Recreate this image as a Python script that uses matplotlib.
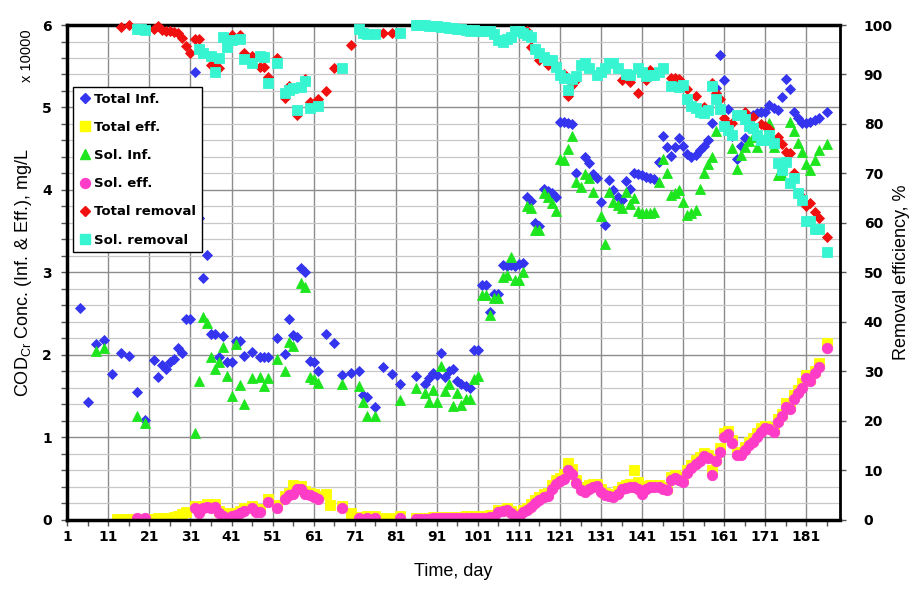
import numpy as np
import matplotlib
matplotlib.use('Agg')
import matplotlib.pyplot as plt
from matplotlib.lines import Line2D
from matplotlib.ticker import MultipleLocator, FixedLocator

# ---- data, concentrations in units of 10000 mg/L ----
tinf_day = [4, 6, 8, 10, 12, 14, 16, 18, 20, 22, 23, 24, 25, 26, 27, 28, 29, 30, 31, 32,
            33, 34, 35, 36, 37, 38, 39, 40, 41, 42, 43, 44, 46, 48, 49, 50, 52, 54, 55, 56,
            57, 58, 59, 60, 61, 62, 64, 66, 68, 70, 72, 73, 74, 76, 78, 80, 82, 86, 88, 89,
            90, 91, 92, 93, 94, 95, 96, 97, 98, 99, 100, 101, 102, 103, 104, 105, 106, 107, 108, 109,
            110, 111, 112, 113, 114, 115, 116, 117, 118, 119, 120, 121, 122, 123, 124, 125, 127, 128, 129, 130,
            131, 132, 133, 134, 135, 136, 137, 138, 139, 140, 141, 142, 143, 144, 145, 146, 147, 148, 149, 150,
            151, 152, 153, 154, 155, 156, 157, 158, 159, 160, 161, 162, 163, 164, 165, 166, 167, 168, 169, 170,
            171, 172, 173, 174, 175, 176, 177, 178, 179, 180, 181, 182, 183, 184, 186]
tinf_val = [2.57, 1.43, 2.13, 2.18, 1.77, 2.03, 1.99, 1.55, 1.21, 1.94, 1.73, 1.88, 1.83, 1.91, 1.95, 2.09, 2.03, 2.44, 2.44, 5.43,
            3.66, 2.93, 3.21, 2.26, 2.26, 1.98, 2.23, 1.91, 1.91, 2.17, 2.17, 1.99, 2.04, 1.97, 1.97, 1.97, 2.20, 2.01, 2.44, 2.24,
            2.22, 3.05, 3.00, 1.93, 1.92, 1.81, 2.26, 2.14, 1.76, 1.78, 1.80, 1.52, 1.49, 1.37, 1.85, 1.77, 1.65, 1.74, 1.65, 1.72,
            1.78, 1.76, 2.03, 1.73, 1.81, 1.83, 1.69, 1.65, 1.62, 1.60, 2.06, 2.06, 2.85, 2.85, 2.52, 2.74, 2.74, 3.09, 3.08, 3.09,
            3.08, 3.10, 3.11, 3.91, 3.87, 3.60, 3.56, 4.01, 3.99, 3.96, 3.92, 4.82, 4.82, 4.81, 4.80, 4.20, 4.40, 4.33, 4.19, 4.14,
            3.86, 3.58, 4.12, 4.00, 3.92, 3.88, 4.11, 4.01, 4.20, 4.19, 4.18, 4.16, 4.15, 4.13, 4.34, 4.65, 4.52, 4.41, 4.52, 4.63,
            4.53, 4.44, 4.40, 4.42, 4.48, 4.53, 4.61, 4.81, 5.24, 5.64, 5.33, 4.98, 4.65, 4.38, 4.53, 4.63, 4.75, 4.91, 4.93, 4.94,
            4.95, 5.03, 4.99, 4.97, 5.13, 5.34, 5.23, 4.94, 4.87, 4.81, 4.81, 4.82, 4.85, 4.87, 4.94]

teff_day = [13, 14, 15, 16, 17, 18, 19, 20, 21, 22, 23, 24, 25, 26, 27, 28, 29, 30, 32, 33,
            34, 35, 36, 37, 38, 39, 41, 42, 43, 44, 46, 47, 48, 50, 52, 54, 55, 56, 57, 58,
            59, 60, 61, 62, 64, 65, 68, 70, 72, 74, 76, 78, 80, 82, 86, 88, 90, 92, 94, 96,
            98, 100, 102, 104, 106, 108, 109, 110, 111, 112, 113, 114, 115, 116, 117, 118, 119, 120, 121, 122,
            123, 124, 125, 126, 127, 128, 129, 130, 131, 132, 133, 134, 135, 136, 137, 138, 139, 140, 141, 142,
            143, 144, 145, 146, 147, 148, 149, 150, 151, 152, 153, 154, 155, 156, 157, 158, 159, 160, 161, 162,
            163, 164, 165, 166, 167, 168, 169, 170, 171, 172, 173, 174, 175, 176, 177, 178, 179, 180, 181, 182,
            183, 184, 186]
teff_val = [0.01, 0.01, 0.01, 0.01, 0.01, 0.01, 0.01, 0.01, 0.01, 0.01, 0.02, 0.02, 0.02, 0.03, 0.04, 0.05, 0.07, 0.10, 0.17, 0.12,
            0.17, 0.19, 0.18, 0.19, 0.11, 0.08, 0.08, 0.09, 0.11, 0.14, 0.17, 0.13, 0.13, 0.25, 0.18, 0.29, 0.33, 0.42, 0.40, 0.41,
            0.35, 0.33, 0.31, 0.29, 0.32, 0.18, 0.17, 0.08, 0.04, 0.05, 0.05, 0.03, 0.03, 0.05, 0.03, 0.03, 0.04, 0.04, 0.04, 0.04,
            0.05, 0.05, 0.05, 0.06, 0.12, 0.14, 0.11, 0.07, 0.05, 0.12, 0.15, 0.19, 0.24, 0.28, 0.31, 0.33, 0.42, 0.48, 0.51, 0.56,
            0.69, 0.62, 0.49, 0.40, 0.38, 0.42, 0.44, 0.44, 0.38, 0.33, 0.32, 0.31, 0.35, 0.40, 0.43, 0.44, 0.61, 0.46, 0.36, 0.41,
            0.43, 0.43, 0.43, 0.40, 0.39, 0.52, 0.55, 0.52, 0.50, 0.61, 0.67, 0.73, 0.76, 0.81, 0.79, 0.61, 0.74, 0.87, 1.05, 1.08,
            0.97, 0.82, 0.82, 0.88, 0.94, 0.99, 1.05, 1.11, 1.14, 1.13, 1.10, 1.22, 1.29, 1.42, 1.38, 1.52, 1.58, 1.66, 1.76, 1.71,
            1.81, 1.90, 2.14]

sinf_day = [8, 10, 18, 20, 32, 33, 34, 35, 36, 37, 38, 39, 40, 41, 42, 43, 44, 46, 48, 49,
            50, 52, 54, 55, 56, 58, 59, 60, 61, 62, 68, 72, 73, 74, 76, 82, 86, 88, 89, 90,
            91, 92, 93, 94, 95, 96, 97, 98, 99, 100, 101, 102, 103, 104, 105, 106, 107, 108, 109, 110,
            111, 112, 113, 114, 115, 116, 117, 118, 119, 120, 121, 122, 123, 124, 125, 126, 127, 128, 129, 131,
            132, 133, 134, 135, 136, 137, 138, 139, 140, 141, 142, 143, 144, 145, 146, 147, 148, 149, 150, 151,
            152, 153, 154, 155, 156, 157, 158, 159, 163, 164, 165, 166, 167, 168, 169, 172, 173, 174, 175, 177,
            178, 179, 180, 181, 182, 183, 184, 186]
sinf_val = [2.05, 2.09, 1.26, 1.18, 1.06, 1.68, 2.46, 2.39, 1.97, 1.83, 1.92, 2.10, 1.75, 1.50, 2.13, 1.64, 1.41, 1.72, 1.73, 1.62,
            1.72, 1.95, 1.81, 2.16, 2.11, 2.87, 2.83, 1.73, 1.71, 1.66, 1.65, 1.62, 1.43, 1.26, 1.26, 1.46, 1.60, 1.54, 1.43, 1.58,
            1.43, 1.87, 1.56, 1.65, 1.38, 1.54, 1.39, 1.47, 1.47, 1.71, 1.75, 2.73, 2.73, 2.48, 2.69, 2.69, 2.95, 2.97, 3.19, 2.91,
            2.91, 3.01, 3.80, 3.78, 3.52, 3.51, 3.96, 3.92, 3.84, 3.75, 4.38, 4.36, 4.50, 4.65, 4.10, 4.04, 4.19, 4.14, 3.98, 3.68,
            3.34, 3.97, 3.85, 3.82, 3.78, 3.97, 3.83, 3.90, 3.74, 3.72, 3.72, 3.72, 3.73, 4.10, 4.38, 4.20, 3.94, 3.96, 4.00, 3.86,
            3.70, 3.72, 3.76, 4.01, 4.20, 4.32, 4.40, 4.72, 4.51, 4.26, 4.42, 4.52, 4.59, 4.64, 4.52, 4.81, 4.52, 4.18, 4.18, 4.83,
            4.72, 4.57, 4.46, 4.32, 4.24, 4.36, 4.48, 4.56]

seff_day = [18, 20, 32, 33, 34, 35, 36, 37, 38, 39, 41, 42, 43, 44, 46, 47, 48, 50, 52, 54,
            55, 56, 57, 58, 59, 60, 61, 62, 68, 72, 74, 76, 82, 86, 87, 88, 89, 90, 91, 92,
            93, 94, 95, 96, 97, 98, 99, 100, 101, 102, 103, 104, 105, 106, 107, 108, 109, 110, 111, 112,
            113, 114, 115, 116, 117, 118, 119, 120, 121, 122, 123, 124, 125, 126, 127, 128, 129, 130, 131, 132,
            133, 134, 135, 136, 137, 138, 139, 140, 141, 142, 143, 144, 145, 146, 147, 148, 149, 150, 151, 152,
            153, 154, 155, 156, 157, 158, 159, 160, 161, 162, 163, 164, 165, 166, 167, 168, 169, 170, 171, 172,
            173, 174, 175, 176, 177, 178, 179, 180, 181, 182, 183, 184, 186]
seff_val = [0.02, 0.02, 0.14, 0.08, 0.14, 0.16, 0.15, 0.16, 0.08, 0.05, 0.05, 0.06, 0.08, 0.11, 0.14, 0.10, 0.10, 0.22, 0.15, 0.26,
            0.30, 0.32, 0.37, 0.38, 0.32, 0.30, 0.28, 0.26, 0.15, 0.02, 0.03, 0.03, 0.03, 0.01, 0.01, 0.01, 0.01, 0.02, 0.02, 0.02,
            0.02, 0.02, 0.02, 0.02, 0.02, 0.03, 0.03, 0.03, 0.03, 0.03, 0.03, 0.04, 0.04, 0.10, 0.11, 0.12, 0.09, 0.05, 0.03, 0.10,
            0.12, 0.16, 0.20, 0.24, 0.28, 0.29, 0.38, 0.44, 0.47, 0.50, 0.60, 0.56, 0.45, 0.36, 0.34, 0.38, 0.40, 0.41, 0.34, 0.30,
            0.29, 0.28, 0.32, 0.37, 0.39, 0.40, 0.40, 0.38, 0.32, 0.38, 0.40, 0.40, 0.40, 0.37, 0.36, 0.48, 0.51, 0.49, 0.46, 0.57,
            0.63, 0.68, 0.72, 0.77, 0.75, 0.55, 0.71, 0.83, 1.01, 1.04, 0.93, 0.79, 0.79, 0.85, 0.91, 0.95, 1.01, 1.07, 1.11, 1.10,
            1.07, 1.19, 1.26, 1.37, 1.35, 1.47, 1.54, 1.60, 1.72, 1.68, 1.78, 1.86, 2.08]

# removal efficiencies, %
trem_day = [14, 16, 22, 23, 24, 25, 26, 27, 28, 29, 30, 31, 32, 33, 36, 37, 38, 41, 43, 44,
            46, 48, 49, 50, 52, 54, 55, 57, 59, 60, 62, 64, 66, 70, 78, 80, 82, 113, 114, 116,
            118, 120, 122, 123, 124, 125, 136, 138, 140, 142, 143, 148, 149, 150, 152, 154, 156, 158, 159, 160,
            161, 162, 163, 164, 166, 168, 170, 171, 172, 174, 175, 176, 177, 178, 180, 181, 182, 183, 184, 186]
trem_val = [99.5, 100.0, 99.1, 99.7, 99.0, 98.8, 98.7, 98.6, 98.3, 97.3, 95.8, 94.4, 97.1, 97.1, 91.9, 91.6, 91.3, 98.0, 98.0, 94.4,
            93.7, 91.6, 91.6, 89.4, 93.3, 85.2, 87.7, 81.8, 89.0, 84.5, 85.0, 86.7, 91.4, 96.0, 98.4, 98.4, 98.3, 98.7, 95.6, 92.9,
            91.9, 91.9, 90.2, 85.7, 87.9, 88.9, 88.9, 88.5, 86.2, 88.9, 91.0, 89.2, 89.2, 89.0, 87.0, 85.6, 83.5, 88.3, 86.3, 85.0,
            81.2, 80.1, 80.2, 81.8, 82.5, 81.4, 80.1, 79.5, 78.9, 77.4, 76.0, 74.4, 74.2, 70.0, 65.3, 63.4, 64.0, 62.3, 61.0, 57.1]

srem_day = [18, 19, 20, 33, 34, 36, 37, 38, 39, 40, 41, 43, 44, 46, 48, 49, 50, 52, 54, 55,
            56, 57, 58, 59, 60, 62, 68, 72, 73, 74, 76, 82, 86, 87, 88, 89, 90, 91, 92, 93,
            94, 95, 96, 97, 98, 99, 100, 101, 102, 103, 104, 105, 106, 107, 108, 109, 110, 111, 112, 113,
            114, 115, 116, 117, 118, 119, 120, 121, 122, 123, 124, 125, 126, 127, 128, 130, 131, 132, 133, 134,
            135, 137, 138, 140, 141, 142, 143, 144, 145, 146, 148, 150, 151, 152, 153, 154, 155, 156, 157, 158,
            159, 160, 161, 162, 163, 164, 165, 166, 167, 168, 169, 170, 171, 172, 173, 174, 175, 176, 177, 178,
            179, 180, 181, 182, 183, 184, 186]
srem_val = [99.1, 99.1, 99.0, 95.1, 94.3, 93.7, 90.6, 93.3, 97.6, 95.6, 97.0, 97.1, 93.1, 92.3, 93.7, 93.5, 88.2, 92.4, 86.2, 86.9,
            87.2, 82.8, 87.5, 88.7, 83.2, 83.6, 91.3, 99.1, 98.3, 98.2, 98.2, 98.3, 100.0, 99.9, 99.9, 99.8, 99.8, 99.7, 99.6, 99.5,
            99.4, 99.3, 99.2, 99.1, 98.9, 98.8, 98.9, 98.8, 98.8, 98.7, 98.7, 98.2, 97.0, 96.6, 97.1, 97.5, 98.7, 98.8, 98.3, 98.0,
            97.5, 95.1, 94.3, 93.6, 92.9, 92.9, 91.6, 89.9, 89.2, 86.9, 89.0, 89.6, 91.9, 92.3, 91.3, 89.9, 90.6, 91.3, 92.3, 92.3,
            91.3, 90.2, 89.9, 91.3, 90.6, 89.6, 89.9, 89.8, 90.6, 91.3, 87.7, 87.4, 87.9, 85.0, 83.6, 83.2, 82.5, 82.3, 82.8, 87.7,
            85.0, 83.0, 79.5, 78.8, 77.8, 81.8, 81.8, 81.0, 79.6, 79.1, 77.8, 76.8, 76.8, 77.8, 76.1, 72.2, 70.7, 72.4, 68.0, 69.0,
            66.1, 64.6, 60.5, 60.5, 58.7, 58.7, 54.2]

labels = ['Total Inf.', 'Total eff.', 'Sol. Inf.', 'Sol. eff.', 'Total removal', 'Sol. removal']
colors = ['#3535F0', '#FFFF00', '#1EE61E', '#FF3CC8', '#F01010', '#38F5D2']
markers = ['D', 's', '^', 'o', 'D', 's']
msizes = [5, 7, 7.5, 7.5, 5, 7]

fig = plt.figure(figsize=(9.14, 6.01), dpi=100)
ax = fig.add_axes([0.0736, 0.1348, 0.8455, 0.8236])
ax2 = ax.twinx()

series_left = [(tinf_day, tinf_val), (teff_day, teff_val), (sinf_day, sinf_val), (seff_day, seff_val)]
for i, (d, v) in enumerate(series_left):
    ax.plot(d, v, linestyle='none', marker=markers[i], ms=msizes[i], color=colors[i],
            markeredgecolor=colors[i], markeredgewidth=0.6)
series_right = [(trem_day, trem_val), (srem_day, srem_val)]
for j, (d, v) in enumerate(series_right):
    i = j + 4
    ax2.plot(d, v, linestyle='none', marker=markers[i], ms=msizes[i], color=colors[i],
             markeredgecolor=colors[i], markeredgewidth=0.6, clip_on=False)

ax.set_xlim(1, 189.2)
ax.set_ylim(0, 6)
ax2.set_ylim(0, 100)

ax.xaxis.set_major_locator(FixedLocator(list(range(1, 190, 10))))
ax.xaxis.set_minor_locator(FixedLocator(list(range(6, 190, 10))))
ax.yaxis.set_major_locator(MultipleLocator(1))
ax.yaxis.set_minor_locator(MultipleLocator(0.2))
ax2.yaxis.set_major_locator(MultipleLocator(10))

ax.set_axisbelow(True)
ax.grid(True, which='major', axis='both', color='#8C8C8C', linewidth=1.0)
ax.grid(True, which='minor', axis='y', color='#C8C8C8', linewidth=0.9)

tick_font = dict(family='DejaVu Sans', weight='bold', size=10)
for lab in ax.get_xticklabels() + ax.get_yticklabels() + ax2.get_yticklabels():
    lab.set_fontproperties(matplotlib.font_manager.FontProperties(**tick_font))
ax.tick_params(axis='both', which='both', direction='out', length=4, width=1, color='#555555')
ax.tick_params(axis='x', pad=3)
ax.tick_params(axis='y', pad=7)
ax2.tick_params(axis='y', direction='out', length=4, width=1, color='#555555', pad=13)

for s in ['left', 'bottom', 'top']:
    ax.spines[s].set_linewidth(2.5)
    ax.spines[s].set_color('black')
    ax2.spines[s].set_visible(False)
ax.spines['right'].set_visible(False)
ax2.spines['right'].set_linewidth(2)
ax2.spines['right'].set_color('black')

lab_font = dict(family='Liberation Sans', size=13)
ax.set_xlabel('Time, day', labelpad=14, **lab_font)
ax.set_ylabel(r'COD$_{\mathregular{Cr}}$ Conc. (Inf. & Eff.), mg/L', labelpad=6, **lab_font)
ax2.set_ylabel('Removal efficiency, %', labelpad=0, **lab_font)
fig.text(27 / 914, 1 - 56 / 601, 'x 10000', rotation=90, ha='center', va='center',
         family='Liberation Sans', size=10.5)

handles = [Line2D([], [], linestyle='none', marker=markers[i], ms=msizes[i] * 0.95, color=colors[i],
                  markeredgecolor=colors[i]) for i in range(6)]
leg = ax2.legend(handles, labels, loc='upper left', bbox_to_anchor=(73.3 / 914, 1 - 86.7 / 601),
                 bbox_transform=fig.transFigure, borderaxespad=0, frameon=True, fancybox=False,
                 edgecolor='black', framealpha=1, handlelength=0.8, handletextpad=0.3,
                 labelspacing=1.15, borderpad=0.45, prop=dict(family='DejaVu Sans', weight='bold', size=9.5))
leg.get_frame().set_linewidth(1)

fig.savefig('out.png', dpi=100)
